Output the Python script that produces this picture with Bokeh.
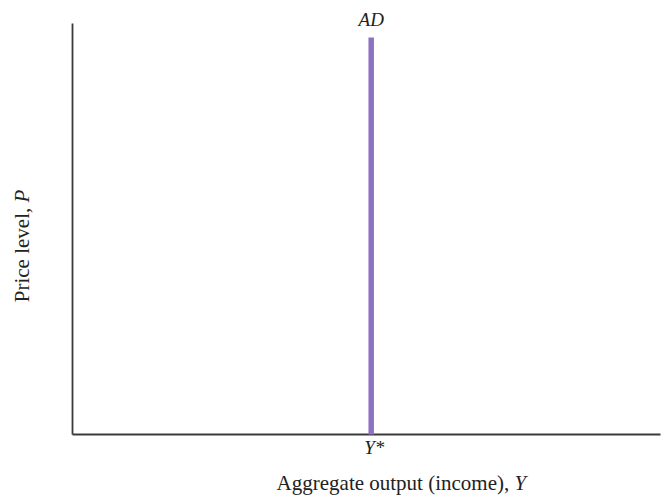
from bokeh.plotting import figure
from bokeh.models import Label, Range1d
from bokeh.embed import file_html
from bokeh.resources import INLINE

# ---- data ----
x_min, x_max = 0.0, 10.0
y_min, y_max = 0.0, 10.0
Y_star = 5.08         # full-employment output
AD_top = 9.66         # top of vertical AD curve
ad_x = [Y_star, Y_star]
ad_y = [y_min, AD_top]
curve_label = "AD"
tick_label = "Y*"
x_label_main = "Aggregate output (income), "
x_label_var = "Y"
y_label_main = "Price level, "
y_label_var = "P"

# ---- layout (page pixels) ----
W, H = 666, 497
left, top, right, bottom = 72, 23, 660, 434   # axis box edges in pixels


def px2x(px):
    return x_min + (px - left) / (right - left) * (x_max - x_min)


def px2y(py):
    return y_min + (bottom - py) / (bottom - top) * (y_max - y_min)


p = figure(width=W, height=H,
           x_range=Range1d(px2x(0), px2x(W)), y_range=Range1d(px2y(H), px2y(0)),
           output_backend="svg", toolbar_location=None,
           min_border=0, min_border_left=0, min_border_right=0,
           min_border_top=0, min_border_bottom=0)
p.outline_line_color = None
p.xaxis.visible = False
p.yaxis.visible = False
p.xgrid.visible = False
p.ygrid.visible = False
p.background_fill_color = "white"
p.border_fill_color = "white"

axis_color = "#3a3a3a"
# axis lines at the edges of the data domain
p.segment(x0=[x_min, x_min], y0=[y_min, y_min], x1=[x_min, x_max], y1=[y_max, y_min],
          line_color=axis_color, line_width=1.8)

# vertical AD curve
p.line(ad_x, ad_y, line_color="#8b73c1", line_width=5.5)

font = "Liberation Serif"
col = "#222222"

p.add_layout(Label(x=Y_star, y=px2y(19), text=curve_label, text_font=font, text_font_style="italic",
                   text_font_size="19px", text_align="center", text_baseline="alphabetic", text_color=col))

p.add_layout(Label(x=Y_star, y=px2y(447), x_offset=3, text=tick_label, text_font=font,
                   text_font_style="italic", text_font_size="19px", text_align="center",
                   text_baseline="alphabetic", text_color=col))

fs = "21px"
split_x = 514
base_y = 482
p.add_layout(Label(x=px2x(split_x), y=px2y(base_y), text=x_label_main, text_font=font,
                   text_font_size=fs, text_align="right", text_baseline="alphabetic", text_color=col))
p.add_layout(Label(x=px2x(split_x), y=px2y(base_y), text=x_label_var, text_font=font, text_font_style="italic",
                   text_font_size=fs, text_align="left", text_baseline="alphabetic", text_color=col))

split_y = 202
lab_x = 21
p.add_layout(Label(x=px2x(lab_x), y=px2y(split_y), text=y_label_main, text_font=font, angle=1.5708,
                   text_font_size=fs, text_align="right", text_baseline="middle", text_color=col))
p.add_layout(Label(x=px2x(lab_x), y=px2y(split_y), text=y_label_var, text_font=font, text_font_style="italic",
                   angle=1.5708, text_font_size=fs, text_align="left", text_baseline="middle", text_color=col))

open("out.html", "w").write(file_html(p, INLINE))
